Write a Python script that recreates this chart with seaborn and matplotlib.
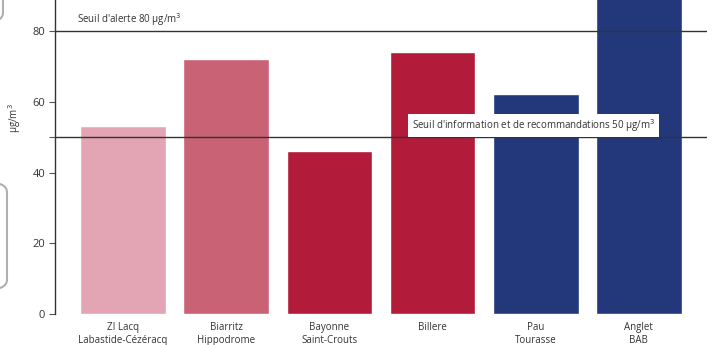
import pandas as pd
import matplotlib.pyplot as plt
import matplotlib.patches as mpatches
import seaborn as sns

stations = ['ZI Lacq\nLabastide-Cézéracq', 'Biarritz\nHippodrome', 'Bayonne\nSaint-Crouts',
            'Billere', 'Pau\nTourasse', 'Anglet\nBAB']
values = [53.1, 72.1, 46.1, 74.1, 62.2, 100.0]
colors = ['#e3a5b4', '#c96275', '#b31b3b', '#b31b3b', '#22387a', '#22387a']
thresholds = [80, 50]

sns.set_style('white')
plt.rcParams['font.family'] = ['Open Sans', 'DejaVu Sans']

df = pd.DataFrame({'station': stations, 'value': values})

fig = plt.figure(figsize=(7.12, 3.45), dpi=100)
ax = fig.add_axes([0.0772, 0.0899, 0.9158, 0.9101])

sns.barplot(data=df, x='station', y='value', hue='station', palette=colors,
            legend=False, width=0.83, saturation=1, ax=ax)

ax.axhline(thresholds[0], color='#333333', lw=1)
ax.axhline(thresholds[1], color='#333333', lw=1)
ax.text(0.034, 0.938, "Seuil d'alerte 80 µg/m$^3$", transform=ax.transAxes,
        fontsize=7, color='#333333', va='center')
ax.text(2.80, 53.3, "Seuil d'information et de recommandations 50 µg/m$^3$",
        fontsize=7, color='#333333', va='center',
        bbox=dict(facecolor='white', edgecolor='none', pad=2.5))

ax.set_xlim(-0.66, 5.66)
ax.set_ylim(0, 88.8)
ax.set_yticks([0, 20, 40, 60, 80])
ax.set_yticks([50], minor=True)
ax.set_xlabel('')
ax.set_ylabel('')
fig.text(15 / 712, 1 - 118 / 345, 'µg/m$^3$', rotation=90, ha='center', va='center',
         fontsize=7, color='#333333')
ax.tick_params(axis='y', which='both', length=4, width=0.8, color='#555555', labelsize=8,
               labelcolor='#333333', pad=3, left=True)
ax.tick_params(axis='x', length=0, labelsize=7, labelcolor='#333333', pad=6)
ax.spines['top'].set_visible(False)
ax.spines['right'].set_visible(False)
ax.spines['bottom'].set_visible(False)
ax.spines['left'].set_color('#333333')
ax.spines['left'].set_linewidth(1)

# rounded grey frames partially visible at left edge
frame = mpatches.FancyBboxPatch((-30 / 712, 55 / 345), 37 / 712, 108 / 345,
                                boxstyle='round,pad=0,rounding_size=0.03',
                                transform=fig.transFigure, facecolor='white',
                                edgecolor='#b0b0b0', lw=1.5, clip_on=False)
fig.patches.append(frame)
frame_top = mpatches.FancyBboxPatch((-30 / 712, 322 / 345), 33 / 712, 80 / 345,
                                    boxstyle='round,pad=0,rounding_size=0.03',
                                    transform=fig.transFigure, facecolor='white',
                                    edgecolor='#b0b0b0', lw=1.5, clip_on=False)
fig.patches.append(frame_top)

fig.savefig('out.png', dpi=100)
